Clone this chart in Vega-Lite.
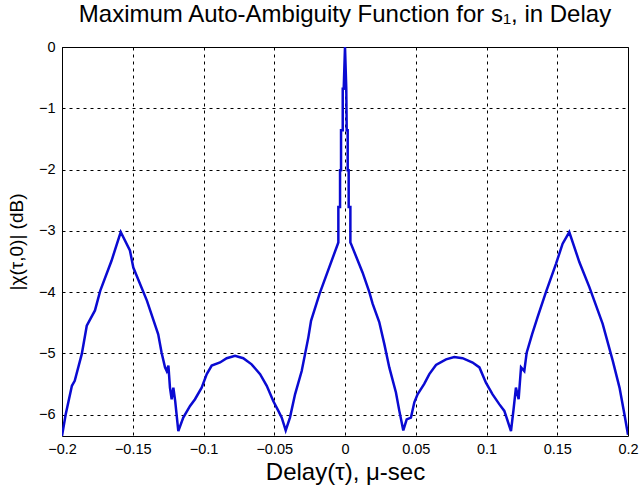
{
  "$schema": "https://vega.github.io/schema/vega-lite/v6.json",
  "autosize": {"type": "none"},
  "width": 566,
  "height": 389,
  "padding": {"left": 62, "top": 47, "right": 12, "bottom": 51},
  "background": "white",
  "config": {
    "font": "Liberation Sans",
    "view": {"stroke": "black", "strokeWidth": 1},
    "axis": {
      "grid": true,
      "gridColor": "black",
      "gridDash": [3, 4],
      "gridOpacity": 1,
      "gridWidth": 1,
      "ticks": false,
      "domain": false,
      "labelColor": "black",
      "labelFontSize": 14.5,
      "titleColor": "black",
      "titleFontWeight": "normal"
    }
  },
  "title": {
    "text": "Maximum Auto-Ambiguity Function for s₁, in Delay",
    "fontSize": 24,
    "fontWeight": "normal",
    "color": "black",
    "offset": 12,
    "anchor": "middle"
  },
  "data": {
    "values": [
      {"i": 1, "x": -0.2, "y": -6.35},
      {"i": 2, "x": -0.1974, "y": -6.0},
      {"i": 3, "x": -0.193, "y": -5.53},
      {"i": 4, "x": -0.191, "y": -5.45},
      {"i": 5, "x": -0.186, "y": -5.01},
      {"i": 6, "x": -0.1825, "y": -4.55},
      {"i": 7, "x": -0.1767, "y": -4.3},
      {"i": 8, "x": -0.173, "y": -3.98},
      {"i": 9, "x": -0.165, "y": -3.49},
      {"i": 10, "x": -0.1585, "y": -3.02},
      {"i": 11, "x": -0.152, "y": -3.32},
      {"i": 12, "x": -0.1496, "y": -3.6},
      {"i": 13, "x": -0.14, "y": -4.14},
      {"i": 14, "x": -0.132, "y": -4.69},
      {"i": 15, "x": -0.1296, "y": -4.99},
      {"i": 16, "x": -0.1272, "y": -5.23},
      {"i": 17, "x": -0.126, "y": -5.29},
      {"i": 18, "x": -0.1248, "y": -5.2},
      {"i": 19, "x": -0.1237, "y": -5.56},
      {"i": 20, "x": -0.1225, "y": -5.75},
      {"i": 21, "x": -0.1213, "y": -5.56},
      {"i": 22, "x": -0.12, "y": -5.78},
      {"i": 23, "x": -0.1178, "y": -6.27},
      {"i": 24, "x": -0.1143, "y": -6.05},
      {"i": 25, "x": -0.1095, "y": -5.86},
      {"i": 26, "x": -0.106, "y": -5.75},
      {"i": 27, "x": -0.1013, "y": -5.56},
      {"i": 28, "x": -0.0977, "y": -5.34},
      {"i": 29, "x": -0.0942, "y": -5.2},
      {"i": 30, "x": -0.0883, "y": -5.15},
      {"i": 31, "x": -0.0836, "y": -5.08},
      {"i": 32, "x": -0.0777, "y": -5.04},
      {"i": 33, "x": -0.0719, "y": -5.08},
      {"i": 34, "x": -0.066, "y": -5.18},
      {"i": 35, "x": -0.06, "y": -5.34},
      {"i": 36, "x": -0.0553, "y": -5.53},
      {"i": 37, "x": -0.0507, "y": -5.78},
      {"i": 38, "x": -0.0471, "y": -5.94},
      {"i": 39, "x": -0.0447, "y": -6.05},
      {"i": 40, "x": -0.0419, "y": -6.26},
      {"i": 41, "x": -0.0389, "y": -6.05},
      {"i": 42, "x": -0.0353, "y": -5.67},
      {"i": 43, "x": -0.0306, "y": -5.29},
      {"i": 44, "x": -0.0259, "y": -4.74},
      {"i": 45, "x": -0.024, "y": -4.47},
      {"i": 46, "x": -0.018, "y": -4.03},
      {"i": 47, "x": -0.0047, "y": -3.19},
      {"i": 48, "x": -0.0047, "y": -2.61},
      {"i": 49, "x": -0.0035, "y": -2.61},
      {"i": 50, "x": -0.0035, "y": -2.01},
      {"i": 51, "x": -0.0028, "y": -2.01},
      {"i": 52, "x": -0.0028, "y": -1.36},
      {"i": 53, "x": -0.0016, "y": -1.36},
      {"i": 54, "x": -0.0016, "y": -0.68},
      {"i": 55, "x": -0.0009, "y": -0.68},
      {"i": 56, "x": 0.0, "y": 0.0},
      {"i": 57, "x": 0.0009, "y": -0.68},
      {"i": 58, "x": 0.0012, "y": -1.36},
      {"i": 59, "x": 0.0019, "y": -1.36},
      {"i": 60, "x": 0.0019, "y": -2.01},
      {"i": 61, "x": 0.0026, "y": -2.01},
      {"i": 62, "x": 0.0026, "y": -2.61},
      {"i": 63, "x": 0.0038, "y": -2.61},
      {"i": 64, "x": 0.0038, "y": -3.19},
      {"i": 65, "x": 0.0042, "y": -3.21},
      {"i": 66, "x": 0.0124, "y": -3.68},
      {"i": 67, "x": 0.0172, "y": -4.0},
      {"i": 68, "x": 0.0195, "y": -4.19},
      {"i": 69, "x": 0.0242, "y": -4.49},
      {"i": 70, "x": 0.0278, "y": -4.85},
      {"i": 71, "x": 0.0313, "y": -5.23},
      {"i": 72, "x": 0.036, "y": -5.64},
      {"i": 73, "x": 0.0384, "y": -5.94},
      {"i": 74, "x": 0.0412, "y": -6.26},
      {"i": 75, "x": 0.0436, "y": -6.08},
      {"i": 76, "x": 0.0466, "y": -6.05},
      {"i": 77, "x": 0.049, "y": -5.8},
      {"i": 78, "x": 0.0513, "y": -5.67},
      {"i": 79, "x": 0.056, "y": -5.5},
      {"i": 80, "x": 0.0596, "y": -5.34},
      {"i": 81, "x": 0.0643, "y": -5.19},
      {"i": 82, "x": 0.0714, "y": -5.1},
      {"i": 83, "x": 0.0772, "y": -5.06},
      {"i": 84, "x": 0.0831, "y": -5.08},
      {"i": 85, "x": 0.0902, "y": -5.15},
      {"i": 86, "x": 0.095, "y": -5.23},
      {"i": 87, "x": 0.0996, "y": -5.48},
      {"i": 88, "x": 0.1043, "y": -5.67},
      {"i": 89, "x": 0.109, "y": -5.83},
      {"i": 90, "x": 0.1126, "y": -5.94},
      {"i": 91, "x": 0.1173, "y": -6.27},
      {"i": 92, "x": 0.119, "y": -5.94},
      {"i": 93, "x": 0.1208, "y": -5.56},
      {"i": 94, "x": 0.1227, "y": -5.75},
      {"i": 95, "x": 0.1244, "y": -5.23},
      {"i": 96, "x": 0.1267, "y": -5.29},
      {"i": 97, "x": 0.1284, "y": -4.99},
      {"i": 98, "x": 0.1322, "y": -4.69},
      {"i": 99, "x": 0.1361, "y": -4.41},
      {"i": 100, "x": 0.142, "y": -4.0},
      {"i": 101, "x": 0.1491, "y": -3.54},
      {"i": 102, "x": 0.1538, "y": -3.21},
      {"i": 103, "x": 0.1585, "y": -3.02},
      {"i": 104, "x": 0.1656, "y": -3.51},
      {"i": 105, "x": 0.1727, "y": -3.92},
      {"i": 106, "x": 0.1821, "y": -4.52},
      {"i": 107, "x": 0.1892, "y": -5.12},
      {"i": 108, "x": 0.194, "y": -5.56},
      {"i": 109, "x": 0.1975, "y": -6.0},
      {"i": 110, "x": 0.2, "y": -6.33}
    ]
  },
  "mark": {"type": "line", "color": "#0a0ad2", "strokeWidth": 2.5, "clip": true},
  "encoding": {
    "x": {
      "field": "x",
      "type": "quantitative",
      "scale": {"domain": [-0.2, 0.2], "nice": false, "zero": false},
      "axis": {
        "values": [-0.2, -0.15, -0.1, -0.05, 0, 0.05, 0.1, 0.15, 0.2],
        "labelExpr": "datum.value == 0 ? '0' : format(datum.value, '.2~f')",
        "labelPadding": 6,
        "labelFlush": false,
        "title": "Delay(τ), μ-sec",
        "titleFontSize": 24,
        "titlePadding": 5
      }
    },
    "y": {
      "field": "y",
      "type": "quantitative",
      "scale": {"domain": [-6.35, 0], "nice": false, "zero": false},
      "axis": {
        "values": [-6, -5, -4, -3, -2, -1, 0],
        "labelPadding": 7,
        "labelFlush": false,
        "title": "|χ(τ,0)| (dB)",
        "titleFontSize": 19,
        "titlePadding": 12
      }
    },
    "order": {"field": "i", "type": "quantitative"}
  }
}
